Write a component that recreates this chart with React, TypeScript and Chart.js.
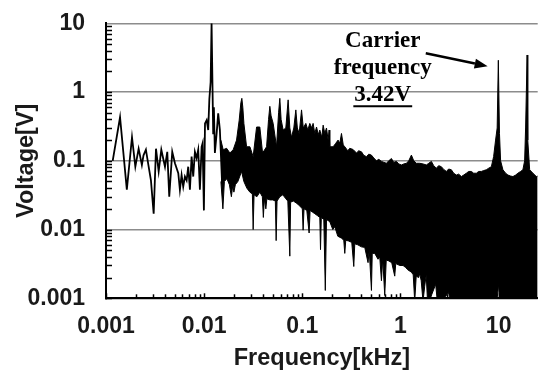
import React, { useEffect, useRef } from "react";
import { Chart, registerables } from "chart.js";

Chart.register(...registerables);

// ---- Data (kHz, V) ----
const LOW_FREQ = [
  0.00117, 0.00139, 0.00163, 0.00184, 0.00199, 0.00215, 0.00232, 0.00241, 0.00255, 0.00272,
  0.00287, 0.00306, 0.00323, 0.00344, 0.00366, 0.00399, 0.00421, 0.00441, 0.00473, 0.00504,
  0.00545, 0.00566, 0.00589, 0.00612, 0.00637, 0.00663, 0.00688, 0.00716, 0.00745, 0.00774,
  0.00805, 0.00837, 0.0087, 0.00905, 0.00942, 0.00964, 0.00994, 0.0102, 0.0106, 0.011,
  0.0113, 0.01164, 0.0119, 0.01236, 0.01256, 0.01286, 0.0134, 0.0139, 0.01446, 0.0152,
];
const LOW_VOLT = [
  0.1, 0.43, 0.038, 0.22, 0.082, 0.15, 0.087, 0.12, 0.145, 0.082,
  0.052, 0.017, 0.15, 0.07, 0.145, 0.082, 0.135, 0.03, 0.135, 0.092,
  0.066, 0.038, 0.062, 0.042, 0.059, 0.052, 0.082, 0.038, 0.115, 0.059,
  0.135, 0.11, 0.145, 0.038, 0.16, 0.18, 0.019, 0.35, 0.39, 0.28,
  0.8, 1.4, 10, 0.25, 0.6, 0.13, 0.25, 0.49, 0.28, 0.05,
];

const UPPER_FREQ = [
  0.0148, 0.01563, 0.01694, 0.01828, 0.01977, 0.02138, 0.02275, 0.02366, 0.02421, 0.02477,
  0.0254, 0.02704, 0.02924, 0.03155, 0.0342, 0.0369, 0.03936, 0.04325, 0.0453, 0.04667,
  0.04808, 0.05047, 0.0546, 0.0573, 0.059, 0.0608, 0.0638, 0.0679, 0.0717, 0.0746,
  0.0776, 0.0819, 0.0859, 0.089, 0.0929, 0.0982, 0.1023, 0.1086, 0.1138, 0.1192,
  0.125, 0.1288, 0.134, 0.1396, 0.1455, 0.1507, 0.1579, 0.163, 0.1694, 0.1763,
  0.1832, 0.1875, 0.1905, 0.206, 0.2193, 0.2313, 0.2408, 0.2506, 0.2613, 0.271,
  0.2904, 0.3042, 0.3289, 0.3565, 0.3758, 0.4008, 0.4227, 0.4498, 0.4753, 0.5058,
  0.5346, 0.5689, 0.6012, 0.6397, 0.676, 0.7194, 0.7592, 0.809, 0.8534, 0.9096,
  0.96, 1.023, 1.08, 1.151, 1.214, 1.292, 1.365, 1.453, 1.57, 1.698,
  1.836, 1.94, 2.065, 2.18, 2.32, 2.45, 2.61, 2.754, 2.937, 3.097,
  3.301, 3.483, 3.713, 3.918, 4.171, 4.402, 4.69, 4.951, 5.277, 5.567,
  5.934, 6.26, 6.664, 7.03, 7.493, 7.91, 8.43, 8.89, 9.31, 9.66,
  9.93, 10.2, 10.47, 11.06, 11.78, 12.44, 13.25, 13.99, 14.9, 15.71,
  16.74, 17.66, 18.4, 18.84, 19.5, 19.8, 20.7, 22.35, 24.2, 25,
];
const UPPER_VOLT = [
  0.2, 0.145, 0.152, 0.13, 0.145, 0.2, 0.39, 0.7, 0.81, 0.6,
  0.35, 0.16, 0.16, 0.115, 0.31, 0.31, 0.13, 0.16, 0.4, 0.62,
  0.45, 0.35, 0.16, 0.5, 0.81, 0.4, 0.28, 0.3, 0.77, 0.3,
  0.22, 0.3, 0.55, 0.3, 0.25, 0.55, 0.3, 0.35, 0.28, 0.35,
  0.3, 0.35, 0.25, 0.31, 0.24, 0.28, 0.22, 0.33, 0.25, 0.3,
  0.2, 0.28, 0.16, 0.16, 0.18, 0.2, 0.18, 0.25, 0.17, 0.16,
  0.14, 0.152, 0.146, 0.13, 0.14, 0.135, 0.12, 0.115, 0.125, 0.121,
  0.11, 0.1, 0.105, 0.098, 0.095, 0.092, 0.1, 0.108, 0.095, 0.098,
  0.09, 0.087, 0.09, 0.092, 0.1, 0.121, 0.1, 0.092, 0.092, 0.09,
  0.087, 0.092, 0.098, 0.085, 0.078, 0.085, 0.082, 0.075, 0.07, 0.076,
  0.074, 0.066, 0.062, 0.064, 0.059, 0.062, 0.066, 0.07, 0.07, 0.066,
  0.066, 0.07, 0.07, 0.072, 0.074, 0.078, 0.082, 0.115, 0.2, 0.3,
  2.9, 0.25, 0.1, 0.074, 0.066, 0.062, 0.06, 0.059, 0.062, 0.066,
  0.07, 0.074, 0.1, 0.31, 3.46, 0.2, 0.074, 0.066, 0.059, 0.06,
];

const LOWER_FREQ = [
  0.014807, 0.015517, 0.016072, 0.017041, 0.018069, 0.018936, 0.019612, 0.020077, 0.020794, 0.022049,
  0.024054, 0.025384, 0.027236, 0.029221, 0.030978, 0.031564, 0.032237, 0.034425, 0.036937, 0.039165,
  0.040093, 0.041043, 0.042511, 0.043518, 0.046697, 0.050087, 0.05311, 0.054115, 0.055269, 0.059023,
  0.063317, 0.06792, 0.071177, 0.074592, 0.076003, 0.080967, 0.087902, 0.094302, 0.1, 0.10189,
  0.10406, 0.11111, 0.11728, 0.12006, 0.12641, 0.13404, 0.14212, 0.1507, 0.1532, 0.1561,
  0.16553, 0.17144, 0.17632, 0.19053, 0.20438, 0.21419, 0.2298, 0.25058, 0.26446, 0.27073,
  0.27714, 0.29736, 0.31905, 0.33436, 0.34228, 0.36725, 0.40045, 0.43267, 0.4673, 0.48063,
  0.50612, 0.51569, 0.54688, 0.59075, 0.6148, 0.63979, 0.65958, 0.6913, 0.71601, 0.75919,
  0.8145, 0.87407, 0.8948, 0.98426, 1.0615, 1.1309, 1.1851, 1.2925, 1.3482, 1.3964,
  1.4464, 1.5337, 1.5701, 1.6262, 1.6963, 1.7653, 1.8284, 1.8938, 2.284, 2.39,
  3.097, 3.25, 9.5, 10, 10.24, 25,
];
const LOWER_VOLT = [
  0.05, 0.02, 0.05, 0.055, 0.045, 0.03, 0.045, 0.035, 0.045, 0.05,
  0.07, 0.05, 0.04, 0.035, 0.033, 0.01, 0.032, 0.03, 0.035, 0.03,
  0.015, 0.028, 0.02, 0.028, 0.027, 0.027, 0.026, 0.0069, 0.026, 0.03,
  0.032, 0.028, 0.026, 0.0041, 0.025, 0.026, 0.024, 0.022, 0.02, 0.0098,
  0.02, 0.019, 0.0089, 0.019, 0.018, 0.017, 0.016, 0.015, 0.0051, 0.015,
  0.014, 0.0013, 0.014, 0.013, 0.01, 0.011, 0.008, 0.0075, 0.007, 0.0045,
  0.007, 0.0068, 0.0065, 0.0029, 0.0062, 0.006, 0.0056, 0.0055, 0.0033, 0.005,
  0.0013, 0.0045, 0.0045, 0.0037, 0.004, 0.0018, 0.0038, 0.0011, 0.0036, 0.0035,
  0.0033, 0.0021, 0.0032, 0.003, 0.003, 0.0028, 0.0026, 0.0024, 0.0022, 0.0009,
  0.0021, 0.002, 0.0023, 0.0018, 0.0009, 0.0015, 0.0022, 0.0008, 0.0016, 0.0008,
  0.0012, 0.0008, 0.0008, 0.0016, 0.0008, 0.0008,
];

const X_TICKS = [0.001, 0.01, 0.1, 1, 10];
const X_TICK_LABELS = ["0.001", "0.01", "0.1", "1", "10"];
const Y_TICKS = [0.001, 0.01, 0.1, 1, 10];
const Y_TICK_LABELS = ["0.001", "0.01", "0.1", "1", "10"];
const X_TITLE = "Frequency[kHz]";
const Y_TITLE = "Voltage[V]";
const NOTE_LINES = ["Carrier", "frequency", "3.42V"];
const NOTE_FREQ = 0.66; // kHz, horizontal centre of the note
const CARRIER_FREQ = 10;
const CARRIER_PEAK = 2.9;

const SANS = "'Liberation Sans', Arial, sans-serif";
const SERIF = "'Liberation Serif', 'Times New Roman', serif";

const zip = (xs: number[], ys: number[]) => xs.map((x, i) => ({ x, y: ys[i] }));

const decorations = {
  id: "decorations",
  afterDraw(chart: any) {
    const { ctx, chartArea, scales } = chart;
    const xs = scales.x;
    const ys = scales.y;
    ctx.save();
    ctx.strokeStyle = "#000";
    ctx.lineWidth = 1.5;
    // inward minor ticks on the y axis
    for (let d = -3; d < 1; d++) {
      for (let m = 1; m <= 9; m++) {
        const v = m * Math.pow(10, d);
        const py = Math.round(ys.getPixelForValue(v)) + 0.5;
        ctx.beginPath();
        ctx.moveTo(chartArea.left, py);
        ctx.lineTo(chartArea.left + 6, py);
        ctx.stroke();
      }
    }
    // inward minor ticks on the x axis
    for (let d = -3; d <= 1; d++) {
      for (let m = 1; m <= 9; m++) {
        const v = m * Math.pow(10, d);
        if (v > xs.max) break;
        const px = Math.round(xs.getPixelForValue(v)) + 0.5;
        ctx.beginPath();
        ctx.moveTo(px, chartArea.bottom);
        ctx.lineTo(px, chartArea.bottom - (m === 1 ? 5 : 4));
        ctx.stroke();
      }
    }
    // annotation
    const cx = xs.getPixelForValue(NOTE_FREQ);
    const base0 = chartArea.top + 24;
    const lineGap = 27;
    ctx.fillStyle = "#000";
    ctx.font = `bold 23px ${SERIF}`;
    ctx.textAlign = "center";
    ctx.textBaseline = "alphabetic";
    NOTE_LINES.forEach((t, i) => ctx.fillText(t, cx, base0 + i * lineGap));
    const last = NOTE_LINES[NOTE_LINES.length - 1];
    const w = ctx.measureText(last).width;
    const uy = base0 + (NOTE_LINES.length - 1) * lineGap + 5;
    ctx.lineWidth = 2;
    ctx.beginPath();
    ctx.moveTo(cx - w / 2 - 1, uy);
    ctx.lineTo(cx + w / 2 + 1, uy);
    ctx.stroke();
    // arrow
    const sx = cx + 43;
    const sy = base0 + 6;
    const ex = xs.getPixelForValue(CARRIER_FREQ) - 11;
    const ey = ys.getPixelForValue(CARRIER_PEAK) + 6;
    const ang = Math.atan2(ey - sy, ex - sx);
    const headLen = 13;
    const headHalf = 5;
    const bx = ex - headLen * Math.cos(ang);
    const by = ey - headLen * Math.sin(ang);
    ctx.lineWidth = 2.5;
    ctx.beginPath();
    ctx.moveTo(sx, sy);
    ctx.lineTo(bx, by);
    ctx.stroke();
    ctx.beginPath();
    ctx.moveTo(ex, ey);
    ctx.lineTo(bx + headHalf * Math.sin(ang), by - headHalf * Math.cos(ang));
    ctx.lineTo(bx - headHalf * Math.sin(ang), by + headHalf * Math.cos(ang));
    ctx.closePath();
    ctx.fill();
    ctx.restore();
  },
};

export default function App() {
  const ref = useRef<HTMLCanvasElement>(null);
  useEffect(() => {
    const canvas = ref.current;
    if (!canvas) return;
    const chart = new Chart(canvas, {
      type: "line",
      data: {
        datasets: [
          {
            label: "upper",
            data: zip(UPPER_FREQ, UPPER_VOLT),
            borderColor: "#000",
            backgroundColor: "#000",
            borderWidth: 1,
            pointRadius: 0,
            tension: 0,
            fill: "+1",
          },
          {
            label: "lower",
            data: zip(LOWER_FREQ, LOWER_VOLT),
            borderColor: "#000",
            borderWidth: 1,
            pointRadius: 0,
            tension: 0,
            fill: false,
          },
          {
            label: "low",
            data: zip(LOW_FREQ, LOW_VOLT),
            borderColor: "#000",
            borderWidth: 1.8,
            pointRadius: 0,
            tension: 0,
            fill: false,
          },
        ],
      },
      options: {
        animation: false,
        responsive: false,
        devicePixelRatio: 1,
        events: [],
        layout: { padding: { top: 23.3, right: 4.3, bottom: 0, left: 0 } },
        plugins: { legend: { display: false }, tooltip: { enabled: false } },
        scales: {
          x: {
            type: "logarithmic",
            min: 0.001,
            max: 25,
            afterBuildTicks: (s: any) => {
              s.ticks = X_TICKS.map((v) => ({ value: v }));
            },
            afterFit: (s: any) => {
              s.height = 77.7;
            },
            ticks: {
              autoSkip: false,
              maxRotation: 0,
              padding: 15,
              color: "#1a1a1a",
              font: { family: SANS, size: 23, weight: "bold" },
              callback: (v: any) => X_TICK_LABELS[X_TICKS.indexOf(Number(v))] ?? "",
            },
            grid: { display: true, color: "rgba(0,0,0,0)", drawTicks: false },
            border: { display: true, color: "#000", width: 2 },
            title: {
              display: true,
              text: X_TITLE,
              color: "#1a1a1a",
              font: { family: SANS, size: 23.5, weight: "bold" },
              padding: { top: 0, bottom: 3 },
            },
          },
          y: {
            type: "logarithmic",
            min: 0.001,
            max: 10,
            afterBuildTicks: (s: any) => {
              s.ticks = Y_TICKS.map((v) => ({ value: v }));
            },
            afterFit: (s: any) => {
              s.width = 106;
              s.paddingTop = 0;
              s.paddingBottom = 0;
            },
            ticks: {
              autoSkip: false,
              padding: 21,
              color: "#1a1a1a",
              font: { family: SANS, size: 23, weight: "bold" },
              callback: (v: any) => Y_TICK_LABELS[Y_TICKS.indexOf(Number(v))] ?? "",
            },
            grid: { display: true, color: "#8c8c8c", lineWidth: 1.5, drawTicks: false },
            border: { display: true, color: "#000", width: 2 },
            title: {
              display: true,
              text: Y_TITLE,
              color: "#1a1a1a",
              font: { family: SANS, size: 23.5, weight: "bold" },
              padding: { top: 12.5, bottom: 0 },
            },
          },
        },
      },
      plugins: [decorations],
    } as any);
    return () => chart.destroy();
  }, []);
  return (
    <div style={{ position: "fixed", left: 0, top: 0, width: 542, height: 376, background: "#fff" }}>
      <canvas ref={ref} width={542} height={376} style={{ display: "block", width: 542, height: 376 }} />
    </div>
  );
}
